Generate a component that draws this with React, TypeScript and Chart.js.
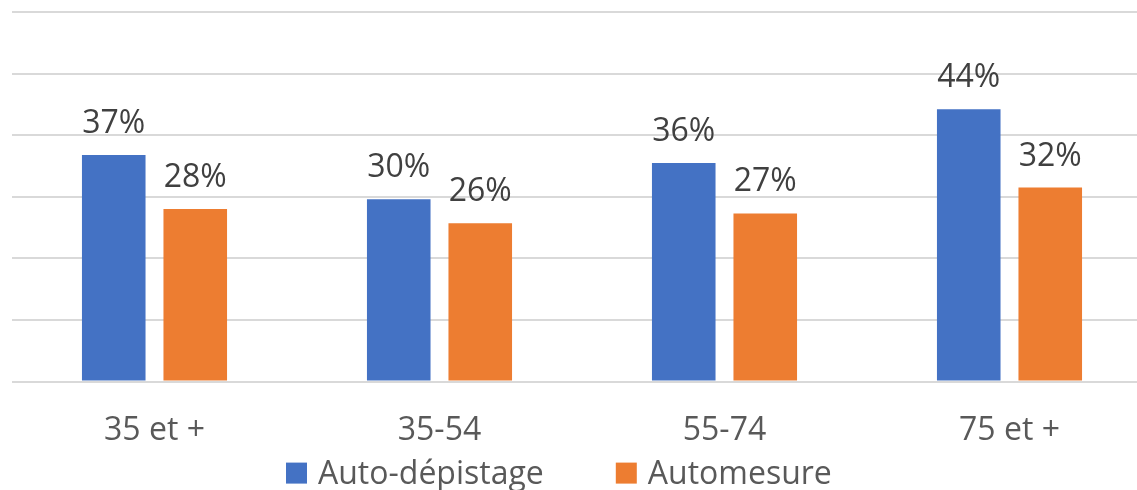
import React, { useEffect, useRef } from "react";
import { Chart, registerables } from "chart.js";

Chart.register(...registerables);

const categories = ["35 et +", "35-54", "55-74", "75 et +"];
const seriesNames = ["Auto-dépistage", "Automesure"];
const autoDepistage = [36.8, 29.6, 35.5, 44.2];
const automesure = [28.0, 25.7, 27.3, 31.5];
const seriesColors = ["#4472C4", "#ED7D31"];
const yMax = 60;
const yStep = 10;

const FONT = "'Open Sans', 'DejaVu Sans', sans-serif";

const dataLabelPlugin = {
  id: "dataLabels",
  afterDatasetsDraw(chart: any) {
    const ctx = chart.ctx;
    ctx.save();
    ctx.font = `32px ${FONT}`;
    ctx.fillStyle = "#404040";
    ctx.textAlign = "center";
    ctx.textBaseline = "alphabetic";
    chart.data.datasets.forEach((ds: any, di: number) => {
      const meta = chart.getDatasetMeta(di);
      meta.data.forEach((bar: any, i: number) => {
        const v = ds.data[i];
        ctx.fillText(`${Math.round(v)}%`, bar.x, bar.y - 22);
      });
    });
    ctx.restore();
  },
};

const customLegendPlugin = {
  id: "customLegend",
  afterDraw(chart: any) {
    const ctx = chart.ctx;
    const area = chart.chartArea;
    ctx.save();
    ctx.font = `32px ${FONT}`;
    ctx.textAlign = "left";
    ctx.textBaseline = "alphabetic";
    const baseline = area.bottom + 102;
    const box = 21;
    let x = 286;
    chart.data.datasets.forEach((ds: any) => {
      ctx.fillStyle = ds.backgroundColor;
      ctx.fillRect(x, baseline - box, box, box);
      x += box + 11;
      ctx.fillStyle = "#595959";
      ctx.fillText(ds.label, x, baseline);
      x += ctx.measureText(ds.label).width + 72;
    });
    ctx.restore();
  },
};

export default function App() {
  const canvasRef = useRef<HTMLCanvasElement | null>(null);

  useEffect(() => {
    if (!canvasRef.current) return;
    const chart = new Chart(canvasRef.current, {
      type: "bar",
      data: {
        labels: categories,
        datasets: [
          {
            label: seriesNames[0],
            data: autoDepistage,
            backgroundColor: seriesColors[0],
            categoryPercentage: 0.572,
            barPercentage: 0.78,
          },
          {
            label: seriesNames[1],
            data: automesure,
            backgroundColor: seriesColors[1],
            categoryPercentage: 0.572,
            barPercentage: 0.78,
          },
        ],
      },
      options: {
        animation: false,
        responsive: false,
        maintainAspectRatio: false,
        layout: { padding: { left: 12, right: 8, top: 12, bottom: 10 } },
        plugins: {
          legend: { display: false },
          tooltip: { enabled: false },
        },
        scales: {
          x: {
            grid: { display: false, drawTicks: false },
            border: { display: false },
            ticks: {
              color: "#595959",
              font: { family: FONT, size: 32 },
              padding: 30,
              maxRotation: 0,
            },
          },
          y: {
            min: 0,
            max: yMax,
            ticks: { display: false, stepSize: yStep },
            grid: { color: "#d9d9d9", lineWidth: 2, drawTicks: false },
            border: { display: false },
          },
        },
      },
      plugins: [dataLabelPlugin, customLegendPlugin],
    });
    return () => chart.destroy();
  }, []);

  return (
    <div
      style={{
        position: "fixed",
        left: 0,
        top: 0,
        width: 1137,
        height: 490,
        overflow: "hidden",
        background: "#fff",
      }}
    >
      <canvas ref={canvasRef} width={1160} height={490} style={{ display: "block" }} />
    </div>
  );
}
